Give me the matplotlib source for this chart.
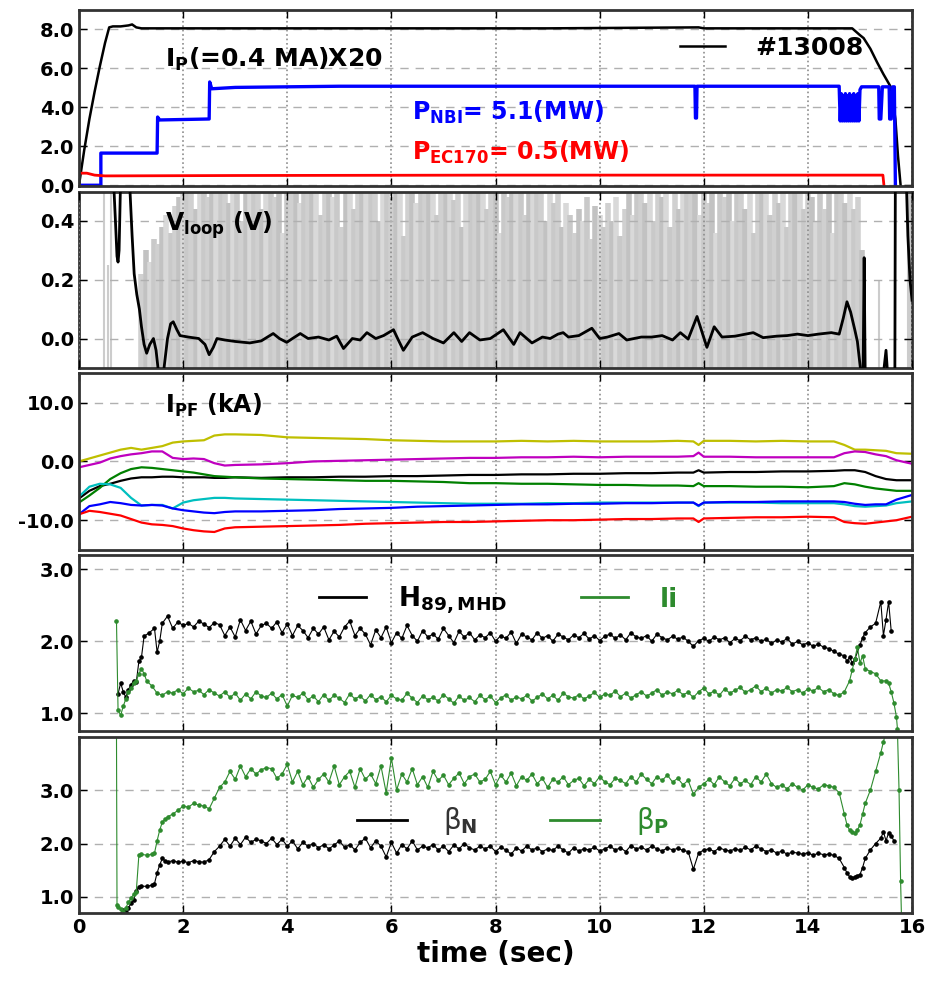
import numpy as np
import matplotlib
matplotlib.use("Agg")
import matplotlib.pyplot as plt

# ---------------- data ----------------
# panel 1 : Ip x20, NBI power, EC power
ip_t = [0.0, 0.1, 0.2, 0.3, 0.4, 0.5, 0.58, 0.65, 0.8, 0.95, 1.02, 1.1, 1.2, 3.0, 6.0, 9.0,
        11.9, 12.0, 14.5, 14.85, 15.0, 15.07, 15.2, 15.33, 15.45, 15.59, 15.68, 15.73, 15.78]
ip_v = [0.0, 1.8, 3.4, 4.8, 6.1, 7.3, 8.1, 8.15, 8.15, 8.2, 8.25, 8.1, 8.05, 8.05, 8.05, 8.05,
        8.1, 8.05, 8.05, 8.05, 7.7, 7.55, 7.0, 6.3, 5.7, 5.05, 3.4, 1.5, 0.0]

nbi_t = [0.0, 0.42, 0.42, 1.50, 1.51, 1.55, 2.50, 2.51, 2.55, 3.0, 5.0, 8.0, 11.83, 11.84,
         11.86, 11.87, 14.60,
         14.62, 14.64, 14.66, 14.68, 14.70, 14.72, 14.74, 14.76, 14.78, 14.80,
         14.82, 14.84, 14.86, 14.88, 14.90, 14.92, 14.94, 14.96, 14.98, 15.00,
         15.03, 15.36, 15.37, 15.40, 15.43, 15.56, 15.57, 15.60, 15.63, 15.66, 15.68]
nbi_v = [0.0, 0.0, 1.65, 1.65, 3.50, 3.35, 3.40, 5.30, 4.95, 5.02, 5.08, 5.08, 5.08, 3.45,
         3.45, 5.08, 5.08,
         3.3, 4.7, 3.3, 4.6, 3.3, 4.7, 3.3, 4.6, 3.3, 4.7,
         3.3, 4.6, 3.3, 4.7, 3.3, 4.6, 3.3, 4.7, 3.3, 4.9,
         5.05, 5.05, 3.4, 3.4, 5.05, 5.05, 3.4, 3.4, 5.05, 5.05, 0.0]

ec_t = [0.0, 0.15, 0.3, 0.5, 3.0, 8.0, 15.44, 15.46]
ec_v = [0.62, 0.62, 0.52, 0.48, 0.50, 0.52, 0.52, 0.0]

# panel 2 : loop voltage (smoothed) and raw signal envelope
vl_t = [0.66, 0.70, 0.73, 0.75, 0.77, 0.80, 0.84, 0.92, 0.98, 1.02, 1.06, 1.11, 1.16, 1.20,
        1.25, 1.30, 1.36, 1.43, 1.48, 1.53, 1.62, 1.70, 1.76, 1.81, 1.88, 1.94, 2.10, 2.30,
        2.42, 2.50, 2.58, 2.65, 2.80, 3.00, 3.28, 3.50, 3.73, 3.85, 3.99, 4.10, 4.25, 4.40,
        4.60, 4.80, 4.95, 5.08, 5.25, 5.40, 5.53, 5.70, 5.85, 6.04, 6.12, 6.23, 6.40, 6.60,
        6.80, 7.00, 7.20, 7.35, 7.50, 7.70, 7.90, 8.15, 8.35, 8.47, 8.70, 8.90, 9.05, 9.20,
        9.30, 9.40, 9.60, 9.85, 10.00, 10.15, 10.37, 10.52, 10.80, 11.00, 11.20, 11.40, 11.55,
        11.70, 11.87, 12.06, 12.20, 12.35, 12.60, 12.95, 13.14, 13.40, 13.60, 13.80, 14.00,
        14.20, 14.45, 14.60, 14.68, 14.75, 14.82, 14.90, 14.95, 15.02, 15.06, 15.08, 15.10,
        15.45, 15.50, 15.53, 15.67, 15.68, 15.88, 15.92, 15.96, 16.0]
vl_v = [0.55, 0.40, 0.28, 0.26, 0.30, 0.55, 0.60, 0.60, 0.50, 0.35, 0.22, 0.15, 0.10, 0.04,
        -0.02, -0.05, -0.02, 0.0, -0.04, -0.12, -0.12, 0.0, 0.05, 0.057, 0.03, 0.01, 0.005, 0.0,
        -0.02, -0.055, -0.03, 0.0, -0.005, -0.01, -0.015, -0.008, 0.017, 0.0, -0.013, 0.0, 0.017, 0.0,
        0.005, -0.005, 0.008, -0.034, 0.0, -0.005, 0.02, 0.0, 0.01, 0.03, 0.0, -0.04, 0.005, 0.02,
        0.0, -0.015, 0.02, -0.01, 0.02, -0.005, 0.0, 0.03, -0.02, 0.02, -0.015, 0.005, 0.0, 0.015,
        0.02, 0.005, 0.01, 0.035, 0.0, 0.005, 0.017, -0.005, 0.005, 0.005, 0.01, -0.005, 0.02,
        -0.002, 0.075, -0.03, 0.04, 0.005, 0.008, 0.02, 0.003, 0.008, 0.01, 0.015, 0.01,
        0.015, 0.02, 0.015, 0.07, 0.125, 0.09, 0.03, -0.01, -0.12, -0.12, 0.275, -0.12,
        -0.12, -0.04, -0.12, -0.12, 0.60, 0.60, 0.35, 0.20, 0.13]

# raw loop voltage: top of each oscillation, one every 0.08 s from 1.2 s
vraw_top = [0.22, 0.30, 0.26, 0.34, 0.32, 0.38, 0.42, 0.36, 0.45, 0.48,
            0.55, 0.50, 0.55, 0.44, 0.55, 0.55, 0.48, 0.55, 0.55, 0.52,
            0.55, 0.46, 0.55, 0.55, 0.40, 0.55, 0.55, 0.50, 0.55, 0.44,
            0.55, 0.55, 0.48, 0.55, 0.36, 0.55, 0.55, 0.55, 0.46, 0.55,
            0.50, 0.55, 0.55, 0.42, 0.55, 0.55, 0.48, 0.55, 0.38, 0.55,
            0.55, 0.44, 0.55, 0.55, 0.55, 0.50, 0.55, 0.40, 0.55, 0.55,
            0.48, 0.55, 0.55, 0.35, 0.55, 0.55, 0.46, 0.55, 0.55, 0.52,
            0.55, 0.42, 0.55, 0.55, 0.55, 0.47, 0.55, 0.38, 0.55, 0.55,
            0.55, 0.50, 0.55, 0.44, 0.55, 0.55, 0.36, 0.55, 0.48, 0.55,
            0.55, 0.55, 0.42, 0.55, 0.50, 0.55, 0.55, 0.40, 0.55, 0.46,
            0.55, 0.38, 0.46, 0.42, 0.36, 0.44, 0.40, 0.48, 0.34, 0.45,
            0.42, 0.38, 0.46, 0.40, 0.48, 0.35, 0.44, 0.50, 0.42, 0.55,
            0.55, 0.46, 0.55, 0.40, 0.55, 0.48, 0.55, 0.38, 0.55, 0.44,
            0.55, 0.50, 0.55, 0.55, 0.42, 0.55, 0.46, 0.55, 0.36, 0.55,
            0.48, 0.55, 0.40, 0.55, 0.55, 0.44, 0.55, 0.36, 0.55, 0.50,
            0.55, 0.42, 0.55, 0.46, 0.55, 0.38, 0.55, 0.50, 0.55, 0.44,
            0.55, 0.48, 0.40, 0.55, 0.44, 0.55, 0.36, 0.50, 0.55, 0.46,
            0.52, 0.44, 0.48, 0.30]
vraw_extra_t = [0.48, 0.56, 0.62, 15.36, 15.92, 15.97]
vraw_extra_v = [0.55, 0.25, 0.55, 0.20, 0.55, 0.55]

# panel 3 : PF coil currents (kA)
pf_t = [0.0, 0.2, 0.4, 0.6, 0.8, 1.0, 1.2, 1.4, 1.6, 1.8, 2.0, 2.2, 2.4, 2.6, 2.8, 3.0,
        3.5, 4.0, 4.5, 5.0, 5.5, 6.0, 6.5, 7.0, 7.5, 8.0, 8.5, 9.0, 9.5, 10.0, 10.5, 11.0,
        11.5, 11.8, 11.9, 12.0, 12.5, 13.0, 13.5, 14.0, 14.5, 14.7, 14.9, 15.1, 15.3, 15.5,
        15.7, 16.0]
pf_yellow = [0.0, 0.5, 1.0, 1.5, 2.0, 2.3, 2.0, 2.3, 2.6, 3.2, 3.4, 3.5, 3.6, 4.4, 4.6, 4.6,
             4.5, 4.1, 4.0, 3.9, 3.8, 3.6, 3.5, 3.4, 3.4, 3.4, 3.5, 3.4, 3.5, 3.4, 3.4, 3.4,
             3.5, 3.4, 2.8, 3.5, 3.5, 3.4, 3.5, 3.4, 3.4, 2.8, 2.0, 2.0, 1.9, 1.8, 1.4, 1.3]
pf_magenta = [-1.0, -0.6, -0.2, 0.5, 0.9, 1.2, 1.4, 1.7, 1.7, 0.6, 0.4, 0.5, 0.4, -0.3, -0.7,
              -0.6, -0.5, -0.3, 0.0, 0.1, 0.2, 0.3, 0.4, 0.5, 0.6, 0.6, 0.7, 0.7, 0.8, 0.7,
              0.8, 0.8, 0.8, 0.9, 1.5, 0.8, 0.8, 0.7, 0.7, 0.7, 0.7, 1.4, 1.7, 1.6, 1.2, 0.9,
              0.2, -0.4]
pf_black = [-6.3, -5.0, -4.2, -3.8, -3.3, -2.9, -2.7, -2.7, -2.6, -2.6, -2.7, -2.7, -2.7, -2.8,
            -2.8, -2.7, -2.8, -2.7, -2.7, -2.6, -2.6, -2.5, -2.5, -2.4, -2.3, -2.3, -2.2, -2.2,
            -2.1, -2.1, -2.0, -2.0, -1.9, -1.9, -1.5, -1.9, -1.8, -1.8, -1.7, -1.7, -1.6, -1.5,
            -1.5, -1.8, -2.5, -3.0, -3.2, -3.2]
pf_green = [-7.0, -5.8, -4.5, -3.0, -2.0, -1.3, -1.0, -1.1, -1.3, -1.5, -1.7, -1.9, -2.2, -2.5,
            -2.6, -2.7, -2.9, -3.0, -3.1, -3.2, -3.3, -3.3, -3.4, -3.5, -3.7, -3.7, -3.8, -3.8,
            -3.9, -4.0, -4.0, -4.1, -4.1, -4.2, -3.7, -4.2, -4.2, -4.3, -4.3, -4.4, -4.2, -3.7,
            -3.9, -4.3, -4.6, -4.8, -5.0, -5.0]
pf_cyan = [-6.0, -4.3, -3.8, -3.9, -4.5, -6.2, -7.5, -7.4, -7.4, -8.0, -7.0, -6.6, -6.4, -6.2,
           -6.2, -6.3, -6.4, -6.5, -6.6, -6.7, -6.8, -6.9, -7.0, -7.1, -7.2, -7.2, -7.2, -7.1,
           -7.1, -7.0, -7.0, -7.0, -7.0, -7.0, -7.6, -7.0, -7.0, -7.0, -7.1, -7.1, -7.1, -7.3,
           -7.6, -7.7, -7.6, -7.5, -7.1, -6.8]
pf_blue = [-9.0, -7.6, -7.3, -6.9, -7.1, -7.4, -7.5, -7.4, -7.5, -8.0, -8.3, -8.5, -8.7, -8.8,
           -8.6, -8.5, -8.5, -8.4, -8.3, -8.1, -8.0, -7.9, -7.7, -7.6, -7.5, -7.4, -7.3, -7.3,
           -7.2, -7.2, -7.1, -7.1, -7.0, -7.0, -7.5, -7.0, -6.9, -6.9, -6.8, -6.8, -6.8, -6.9,
           -7.2, -7.4, -7.3, -7.3, -6.5, -5.7]
pf_red = [-9.0, -8.4, -8.6, -8.9, -9.2, -9.8, -10.4, -10.7, -10.8, -11.0, -11.4, -11.7, -11.9,
          -12.0, -11.4, -11.2, -11.1, -11.0, -10.9, -10.8, -10.6, -10.5, -10.4, -10.3, -10.3,
          -10.2, -10.1, -10.0, -10.0, -9.9, -9.8, -9.8, -9.7, -9.7, -10.3, -9.7, -9.6, -9.5,
          -9.5, -9.4, -9.5, -10.3, -10.5, -10.6, -10.4, -10.2, -10.0, -9.4]

# panels 4 and 5 : sampled every 0.1 s between 1.8 and 14.5 s, plus start/end segments
h89_head_t = [0.75, 0.8, 0.85, 0.9, 0.95, 1.0, 1.05, 1.1, 1.15, 1.2, 1.25, 1.35, 1.45, 1.5, 1.55, 1.6, 1.7]
h89_head_v = [1.27, 1.42, 1.30, 1.22, 1.33, 1.40, 1.45, 1.43, 1.72, 1.78, 2.07, 2.12, 2.18, 1.85, 2.00, 2.25, 2.35]
h89_body = [2.18, 2.27, 2.22, 2.25, 2.20, 2.28, 2.24, 2.19, 2.26, 2.23,
            2.08, 2.20, 2.06, 2.30, 2.15, 2.28, 2.10, 2.22, 2.25, 2.18,
            2.27, 2.12, 2.24, 2.08, 2.22, 2.15, 2.05, 2.18, 2.10, 2.20,
            2.02, 2.14, 2.06, 2.20, 2.28, 2.08, 2.18, 2.10, 1.95, 2.16,
            2.05, 2.20, 1.98, 2.12, 2.04, 2.22, 2.08, 2.00, 2.15, 2.06,
            2.10, 2.03, 2.18, 2.08, 1.98, 2.14, 2.06, 2.12, 2.02, 2.09,
            2.05, 2.12, 2.00, 2.08, 2.04, 2.13, 1.97, 2.10, 2.06, 2.02,
            2.12, 2.04, 2.08, 2.00, 2.10, 2.06, 2.02, 2.09, 2.05, 2.11,
            2.03, 2.08, 2.01, 2.07, 2.10, 2.04, 2.09, 2.02, 2.12, 2.06,
            2.04, 2.08, 2.00, 2.10, 2.05, 2.02, 2.07, 2.03, 2.06, 2.00,
            1.93, 2.01, 2.04, 2.00, 2.06, 2.02, 2.05, 1.98, 2.04, 2.01,
            2.07, 2.02, 2.05, 2.00, 2.03, 1.97, 2.02, 1.99, 2.04, 1.96,
            2.00, 1.95, 1.98, 1.93, 1.96, 1.92, 1.90, 1.86]
h89_tail_t = [14.6, 14.7, 14.75, 14.8, 14.85, 14.9, 15.0, 15.05, 15.1, 15.2, 15.3, 15.4, 15.45, 15.5, 15.55, 15.6]
h89_tail_v = [1.82, 1.80, 1.72, 1.78, 1.70, 1.75, 1.95, 2.05, 2.12, 2.20, 2.25, 2.55, 2.08, 2.30, 2.55, 2.14]

li_head_t = [0.72, 0.75, 0.8, 0.85, 0.9, 0.95, 1.0, 1.05, 1.1, 1.15, 1.2, 1.25, 1.3, 1.4, 1.5, 1.6, 1.7]
li_head_v = [2.28, 1.05, 0.97, 1.10, 1.20, 1.30, 1.35, 1.42, 1.45, 1.55, 1.62, 1.55, 1.45, 1.38, 1.28, 1.25, 1.30]
li_body = [1.28, 1.33, 1.27, 1.35, 1.30, 1.32, 1.26, 1.33, 1.28, 1.24,
           1.30, 1.22, 1.28, 1.18, 1.27, 1.20, 1.30, 1.24, 1.22, 1.28,
           1.20, 1.26, 1.10, 1.25, 1.22, 1.28, 1.19, 1.24, 1.16, 1.26,
           1.18, 1.25, 1.21, 1.15, 1.27, 1.20, 1.24, 1.17, 1.26, 1.19,
           1.23, 1.16, 1.25, 1.20, 1.18, 1.28, 1.21, 1.15, 1.24, 1.19,
           1.22, 1.17, 1.26, 1.20, 1.14, 1.24, 1.18, 1.22, 1.16, 1.25,
           1.19, 1.24, 1.15, 1.21, 1.26, 1.18, 1.23, 1.20, 1.25, 1.17,
           1.22, 1.27, 1.20, 1.25, 1.18, 1.28, 1.23, 1.21, 1.26, 1.20,
           1.24, 1.29, 1.22, 1.27, 1.25, 1.31, 1.23, 1.28, 1.21, 1.26,
           1.30, 1.24, 1.28, 1.33, 1.25, 1.30, 1.27, 1.32, 1.26, 1.29,
           1.22, 1.30, 1.35, 1.27, 1.31, 1.25, 1.34, 1.28, 1.32, 1.36,
           1.29, 1.33, 1.38, 1.30, 1.35, 1.28, 1.33, 1.31, 1.36, 1.30,
           1.33, 1.28, 1.34, 1.31, 1.36, 1.30, 1.33, 1.27]
li_tail_t = [14.6, 14.7, 14.8, 14.85, 14.9, 14.95, 15.0, 15.05, 15.1, 15.2, 15.3, 15.4, 15.5, 15.55, 15.6, 15.65, 15.7, 15.72]
li_tail_v = [1.25, 1.30, 1.45, 1.60, 1.75, 1.92, 1.70, 1.80, 1.62, 1.58, 1.55, 1.45, 1.45, 1.42, 1.30, 1.15, 0.95, 0.78]

bp_head_t = [0.72, 0.73, 0.75, 0.8, 0.85, 0.9, 0.95, 1.0, 1.05, 1.1, 1.15, 1.2, 1.3, 1.4, 1.45, 1.5, 1.55, 1.6, 1.65, 1.7]
bp_head_v = [4.1, 0.85, 0.82, 0.78, 0.72, 0.80, 0.90, 0.98, 1.05, 1.10, 1.78, 1.80, 1.78, 1.80, 1.82, 2.05, 2.25, 2.40, 2.45, 2.50]
bp_body = [2.55, 2.62, 2.70, 2.68, 2.75, 2.72, 2.70, 2.65, 2.85, 3.05,
           3.15, 3.35, 3.20, 3.45, 3.25, 3.40, 3.30, 3.38, 3.42, 3.40,
           3.22, 3.30, 3.48, 3.15, 3.35, 3.10, 3.25, 3.05, 3.20, 3.30,
           3.15, 3.45, 3.10, 3.25, 3.35, 3.05, 3.40, 3.20, 3.30, 3.12,
           3.45, 2.95, 3.60, 3.00, 3.30, 3.15, 3.40, 3.10, 3.25, 3.05,
           3.35, 3.18, 3.28, 3.10, 3.22, 3.32, 3.12, 3.25, 3.30, 3.15,
           3.20, 3.35, 3.10, 3.28, 3.15, 3.32, 3.08, 3.25, 3.18, 3.30,
           3.12, 3.22, 3.05, 3.20, 3.15, 3.25, 3.10, 3.18, 3.22, 3.08,
           3.20, 3.12, 3.25, 3.15, 3.10, 3.22, 3.18, 3.12, 3.25, 3.15,
           3.30, 3.20, 3.12, 3.25, 3.18, 3.28, 3.15, 3.22, 3.10, 3.18,
           2.92, 3.05, 3.12, 3.20, 3.10, 3.25, 3.15, 3.08, 3.22, 3.12,
           3.18, 3.10, 3.25, 3.15, 3.30, 3.12, 3.05, 3.10, 3.02, 3.12,
           3.05, 3.00, 3.10, 3.05, 3.02, 3.10, 3.08, 3.05]
bp_tail_t = [14.6, 14.7, 14.75, 14.8, 14.85, 14.9, 14.95, 15.0, 15.05, 15.1, 15.2, 15.3, 15.4, 15.45,
             15.5, 15.72, 15.75, 15.78, 15.8]
bp_tail_v = [2.95, 2.55, 2.35, 2.25, 2.22, 2.20, 2.25, 2.35, 2.55, 2.75, 3.00, 3.35, 3.70, 3.90,
             4.10, 4.10, 3.00, 1.30, 0.50]

bn_head_t = [0.8, 0.85, 0.9, 0.95, 1.0, 1.05, 1.1, 1.15, 1.2, 1.3, 1.4, 1.45, 1.5, 1.55, 1.6, 1.65, 1.7]
bn_head_v = [0.68, 0.75, 0.72, 0.80, 0.88, 0.95, 1.12, 1.18, 1.20, 1.20, 1.22, 1.25, 1.45, 1.60, 1.72, 1.68, 1.65]
bn_body = [1.68, 1.65, 1.67, 1.64, 1.68, 1.66, 1.65, 1.70, 1.85, 1.95,
           2.08, 1.95, 2.10, 1.98, 2.12, 2.02, 2.08, 2.05, 2.00, 2.10,
           1.98, 2.08, 1.95, 2.05, 1.90, 2.02, 1.95, 2.00, 1.92, 1.98,
           1.90, 1.97, 2.05, 1.93, 1.98, 1.88, 2.02, 2.10, 1.92, 2.05,
           1.95, 1.75, 2.02, 1.82, 1.98, 1.90, 2.05, 1.88, 1.95, 1.92,
           1.98, 1.88, 1.95, 1.85, 1.97, 1.90, 2.00, 1.92, 1.88, 1.95,
           1.90, 1.95, 1.85, 1.93, 1.88, 1.80, 1.92, 1.86, 1.95, 1.88,
           1.92, 1.85, 1.90, 1.87, 1.95, 1.88, 1.82, 1.92, 1.86, 1.90,
           1.88, 1.93, 1.86, 1.90, 1.95, 1.88, 1.92, 1.85, 1.96, 1.90,
           1.93, 1.88, 1.95, 1.90, 1.86, 1.92, 1.88, 1.91, 1.87, 1.85,
           1.52, 1.82, 1.88, 1.90, 1.85, 1.92, 1.88, 1.86, 1.90, 1.87,
           1.93, 1.88, 1.95, 1.90, 1.85, 1.88, 1.82, 1.86, 1.80, 1.84,
           1.82, 1.80, 1.83, 1.78, 1.82, 1.79, 1.80, 1.78]
bn_tail_t = [14.6, 14.7, 14.75, 14.8, 14.85, 14.9, 14.95, 15.0, 15.05, 15.1, 15.2, 15.3, 15.4, 15.45, 15.5, 15.55, 15.6, 15.65]
bn_tail_v = [1.72, 1.55, 1.45, 1.38, 1.35, 1.38, 1.40, 1.42, 1.55, 1.72, 1.88, 2.00, 2.10, 2.22, 2.05, 2.20, 2.15, 2.05]

# ---------------- style ----------------
plt.rcParams['xtick.direction'] = 'in'
plt.rcParams['ytick.direction'] = 'in'
plt.rcParams['font.weight'] = 'bold'
plt.rcParams['axes.labelweight'] = 'bold'
plt.rcParams['mathtext.default'] = 'regular'

t_body = np.round(np.arange(1.8, 14.51, 0.1), 2)
t_raw = 1.2 + 0.08 * np.arange(len(vraw_top))

fig = plt.figure(figsize=(9.25, 9.83), dpi=100)
gs = fig.add_gridspec(5, 1, left=0.0854, right=0.986, top=0.99, bottom=0.0712, hspace=0.03)
axs = [fig.add_subplot(gs[i]) for i in range(5)]
for ax in axs[1:]:
    ax.sharex(axs[0])

mk = dict(marker='o', markersize=2.3, lw=0.8)
green = '#2e8b2e'

# panel 1
ax = axs[0]
ax.plot(ip_t, ip_v, 'k-', lw=1.8, label='#13008')
ax.plot(nbi_t, nbi_v, color='b', lw=2.4)
ax.plot(ec_t, ec_v, color='r', lw=2)
ax.set_ylim(-0.05, 9.0)
ax.set_yticks([0, 2, 4, 6, 8])
ax.text(0.103, 0.72, r'I$_{\mathbf{P}}$(=0.4 MA)X20', transform=ax.transAxes, fontsize=18,
        fontweight='bold', va='center')
ax.text(0.40, 0.42, r'P$_{\mathbf{NBI}}$= 5.1(MW)', transform=ax.transAxes, fontsize=17,
        fontweight='bold', color='b', va='center')
ax.text(0.40, 0.19, r'P$_{\mathbf{EC170}}$= 0.5(MW)', transform=ax.transAxes, fontsize=17,
        fontweight='bold', color='r', va='center')
ax.legend(loc='center left', bbox_to_anchor=(0.71, 0.785), borderaxespad=0, frameon=False,
          handlelength=1.8, handletextpad=1.2, prop={'weight': 'bold', 'size': 18})

# panel 2 (grey raw signal under the grid, smoothed trace on top)
ax = axs[1]
ax.set_axisbelow(False)
shades = ['#d0d0d0', '#c2c2c2', '#d9d9d9', '#c9c9c9']
ax.vlines(t_raw, -0.1, vraw_top, colors=[shades[i % 4] for i in range(len(vraw_top))],
          lw=4.0, zorder=1)
ax.vlines(vraw_extra_t, -0.1, vraw_extra_v, colors='#cccccc', lw=1.5, zorder=1)
ax.plot(vl_t, vl_v, 'k-', lw=2, zorder=3)
ax.set_ylim(-0.1, 0.5)
ax.set_yticks([0.0, 0.2, 0.4])
ax.text(0.103, 0.81, r'V$_{\mathbf{loop}}$ (V)', transform=ax.transAxes, fontsize=17,
        fontweight='bold', va='center', zorder=4)

# panel 3
ax = axs[2]
for vals, c in [(pf_yellow, 'y'), (pf_magenta, 'm'), (pf_black, 'k'), (pf_green, 'g'),
                (pf_cyan, 'c'), (pf_blue, 'b'), (pf_red, 'r')]:
    ax.plot(pf_t, vals, color=c, lw=1.6)
ax.set_ylim(-15, 15)
ax.set_yticks([-10, 0, 10])
ax.text(0.103, 0.82, r'I$_{\mathbf{PF}}$ (kA)', transform=ax.transAxes, fontsize=17,
        fontweight='bold', va='center')

# panel 4
ax = axs[3]
ax.plot(h89_head_t + list(t_body) + h89_tail_t, h89_head_v + h89_body + h89_tail_v, color='k',
        label=r'H$_{\mathbf{89,MHD}}$', **mk)
ax.plot(li_head_t + list(t_body) + li_tail_t, li_head_v + li_body + li_tail_v, color=green,
        label='li', **mk)
ax.set_ylim(0.75, 3.2)
ax.set_yticks([1, 2, 3])
leg = ax.legend(loc='center left', bbox_to_anchor=(0.275, 0.743), borderaxespad=0, ncol=2,
                frameon=False, handlelength=1.8, handletextpad=1.2, columnspacing=2.8,
                prop={'weight': 'bold', 'size': 19})
for h in leg.legend_handles:
    h.set_marker('')
    h.set_linewidth(2)
leg.get_texts()[1].set_color(green)

# panel 5
ax = axs[4]
ax.plot(bn_head_t + list(t_body) + bn_tail_t, bn_head_v + bn_body + bn_tail_v, color='k',
        label=r'$\beta_{\mathbf{N}}$', **mk)
ax.plot(bp_head_t + list(t_body) + bp_tail_t, bp_head_v + bp_body + bp_tail_v, color=green,
        label=r'$\beta_{\mathbf{P}}$', **mk)
ax.set_ylim(0.7, 4.0)
ax.set_yticks([1, 2, 3])
leg = ax.legend(loc='center left', bbox_to_anchor=(0.32, 0.52), borderaxespad=0, ncol=2,
                frameon=False, handlelength=1.8, handletextpad=1.3, columnspacing=2.6,
                prop={'weight': 'normal', 'size': 20})
for h in leg.legend_handles:
    h.set_marker('')
    h.set_linewidth(2)
leg.get_texts()[0].set_color('#333333')
leg.get_texts()[1].set_color(green)
ax.set_xlabel('time (sec)', fontsize=20, fontweight='bold', labelpad=2)

for i, ax in enumerate(axs):
    ax.set_xlim(0, 16)
    ax.set_xticks(range(0, 17, 2))
    ax.yaxis.set_major_formatter(matplotlib.ticker.FormatStrFormatter('%.1f'))
    ax.grid(axis='y', ls='--', color='#b0b0b0', lw=1, dashes=(6, 5))
    ax.grid(axis='x', ls=':', color='#8c8c8c', lw=1.2)
    ax.tick_params(top=True, right=True, length=6, width=1, labelsize=14)
    for s in ax.spines.values():
        s.set_linewidth(2)
        s.set_color('#333333')
    if i < 4:
        ax.tick_params(labelbottom=False)

plt.savefig('out.png', dpi=100)
